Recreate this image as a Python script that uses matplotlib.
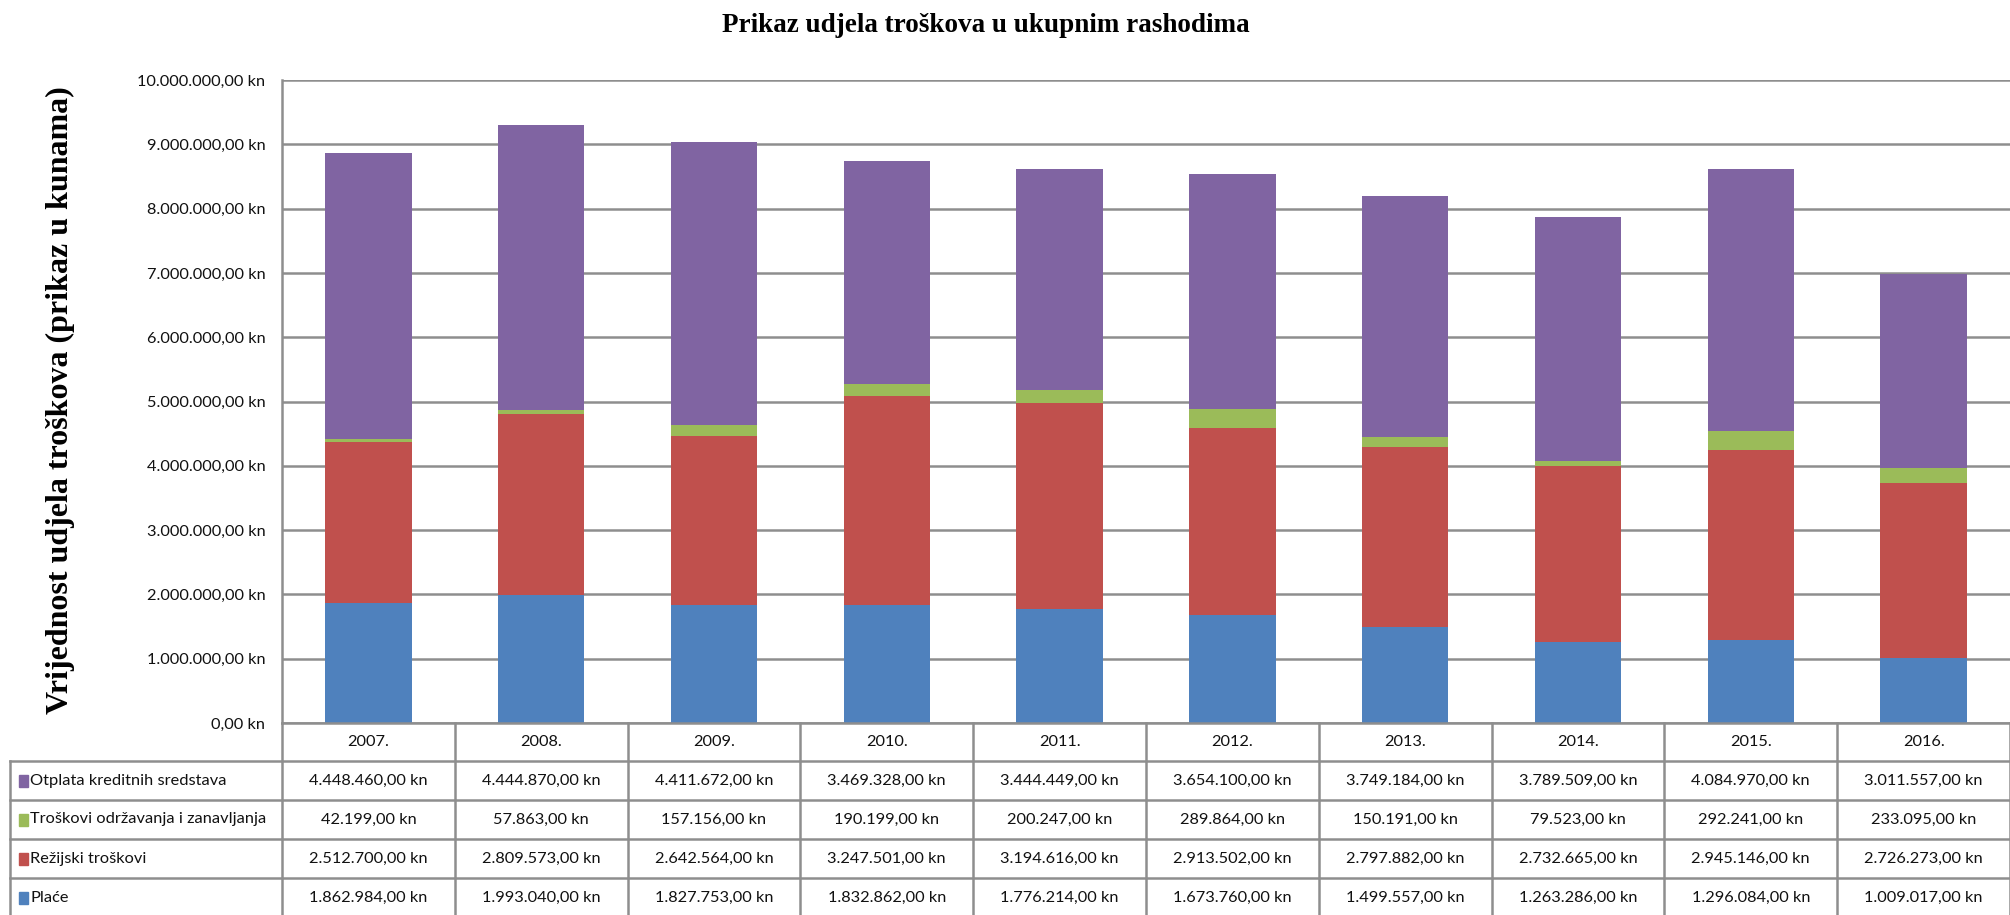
import numpy as np
import matplotlib.pyplot as plt
from matplotlib.patches import Rectangle

years = ['2007.', '2008.', '2009.', '2010.', '2011.', '2012.', '2013.', '2014.', '2015.', '2016.']
place = [1862984, 1993040, 1827753, 1832862, 1776214, 1673760, 1499557, 1263286, 1296084, 1009017]
rezijski = [2512700, 2809573, 2642564, 3247501, 3194616, 2913502, 2797882, 2732665, 2945146, 2726273]
odrzavanje = [42199, 57863, 157156, 190199, 200247, 289864, 150191, 79523, 292241, 233095]
otplata = [4448460, 4444870, 4411672, 3469328, 3444449, 3654100, 3749184, 3789509, 4084970, 3011557]

names = ['Plaće', 'Režijski troškovi', 'Troškovi održavanja i zanavljanja', 'Otplata kreditnih sredstava']
colors = ['#4F81BD', '#C0504D', '#9BBB59', '#8064A2']
series = [place, rezijski, odrzavanje, otplata]

sans = ['Lato', 'DejaVu Sans']
serif = ['Liberation Serif', 'DejaVu Serif']
grid_c = '#8e8e8e'
fs = 11.8


def kn(v):
    s = f'{v:,.2f}'.replace(',', 'X').replace('.', ',').replace('X', '.')
    return s + ' kn'


W, H = 2010, 915
fig = plt.figure(figsize=(W / 100, H / 100), dpi=100)

# chart area
ax = fig.add_axes([282 / W, (H - 723) / H, (W - 282) / W, (723 - 80) / H])
x = np.arange(len(years))
bottom = np.zeros(len(years))
for vals, c in zip(series, colors):
    ax.bar(x, vals, 0.5, bottom=bottom, color=c, zorder=3)
    bottom += np.array(vals)

ax.set_xlim(-0.5, len(years) - 0.5)
ax.set_ylim(0, 10_000_000)
ax.set_yticks(np.arange(0, 10_000_001, 1_000_000))
ax.yaxis.set_major_formatter(lambda v, p: kn(v))
ax.tick_params(axis='y', length=0, pad=12, labelsize=fs, labelcolor='#111111')
for lab in ax.get_yticklabels():
    lab.set_family(sans)
ax.set_xticks([])
ax.grid(axis='y', color=grid_c, lw=1.8, zorder=0)
for s in ['top', 'right', 'bottom']:
    ax.spines[s].set_visible(False)
ax.spines['left'].set_color(grid_c)
ax.spines['left'].set_linewidth(1.8)

fig.text(986 / W, 1 - 25 / H, 'Prikaz udjela troškova u ukupnim rashodima',
         family=serif, weight='bold', size=19.5, ha='center', va='center')
fig.text(60 / W, 1 - 400 / H, 'Vrijednost udjela troškova (prikaz u kunama)',
         family=serif, weight='bold', size=23, ha='center', va='center', rotation=90)

# data table below the chart (pixel coordinates, y downwards)
tab = fig.add_axes([0, 0, 1, 1])
tab.set_xlim(0, W)
tab.set_ylim(H, 0)
tab.axis('off')

col_edges = [ax.transData.transform((i - 0.5, 0))[0] for i in range(len(years) + 1)]
rows = [723, 761, 800, 839, 878, 917]
lw = 1.8

tab.plot([col_edges[0], W], [rows[0]] * 2, color=grid_c, lw=lw)
for r in rows[1:-1]:
    tab.plot([10, W], [r, r], color=grid_c, lw=lw)
for xe in col_edges:
    tab.plot([xe, xe], [rows[0], H], color=grid_c, lw=lw)
tab.plot([10, 10], [rows[1], H], color=grid_c, lw=lw)

for i, yr in enumerate(years):
    cx = (col_edges[i] + col_edges[i + 1]) / 2
    tab.text(cx, (rows[0] + rows[1]) / 2, yr, family=sans, size=fs, ha='center', va='center',
             color='#111111')

# table rows are listed top-down: reverse stacking order
for k, (name, vals, c) in enumerate(zip(names[::-1], series[::-1], colors[::-1])):
    cy = (rows[k + 1] + rows[k + 2]) / 2
    tab.add_patch(Rectangle((19, cy - 6), 9, 12, color=c))
    tab.text(30, cy, name, family=sans, size=fs, ha='left', va='center', color='#111111')
    for i, v in enumerate(vals):
        cx = (col_edges[i] + col_edges[i + 1]) / 2
        tab.text(cx, cy, kn(v), family=sans, size=fs, ha='center', va='center', color='#111111')

fig.savefig('out.png', dpi=100)
